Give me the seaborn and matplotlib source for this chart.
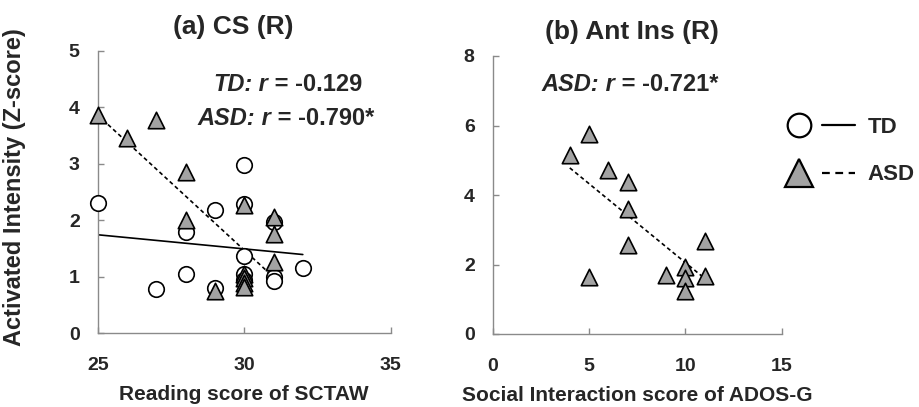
import matplotlib
matplotlib.use("Agg")
import matplotlib.pyplot as plt
import seaborn as sns
import pandas as pd
from matplotlib.lines import Line2D
from matplotlib.legend_handler import HandlerTuple

# ---------------- data ----------------
# Panel (a) CS (R): Reading score of SCTAW
td_x = [25, 27, 28, 28, 29, 29, 30, 30, 30, 30, 30, 31, 31, 31, 32]
td_y = [2.30, 0.78, 1.79, 1.05, 2.17, 0.80, 2.98, 2.28, 1.37, 1.05, 0.93, 1.96, 1.00, 0.92, 1.15]

asd_a_x = [25, 26, 27, 28, 28, 29, 30, 30, 30, 30, 30, 31, 31, 31]
asd_a_y = [3.86, 3.46, 3.78, 2.85, 2.00, 0.74, 2.26, 1.05, 0.97, 0.89, 0.81, 2.05, 1.75, 1.25]

# fitted lines (end points)
td_fit_x = [25, 32]
td_fit_y = [1.74, 1.39]
asd_a_fit_x = [25, 31]
asd_a_fit_y = [3.86, 0.99]

# Panel (b) Ant Ins (R): Social Interaction score of ADOS-G
asd_b_x = [4, 5, 5, 6, 7, 7, 7, 9, 10, 10, 10, 11, 11]
asd_b_y = [5.15, 5.75, 1.63, 4.72, 4.38, 3.59, 2.56, 1.70, 1.92, 1.60, 1.24, 2.69, 1.67]
asd_b_fit_x = [4, 11]
asd_b_fit_y = [4.78, 1.60]

titles = ["(a) CS (R)", "(b) Ant Ins (R)"]
xlabels = ["Reading score of SCTAW", "Social Interaction score of ADOS-G"]
ylabel = "Activated Intensity (Z-score)"
a_xticks = [25, 30, 35]
a_yticks = [0, 1, 2, 3, 4, 5]
b_xticks = [0, 5, 10, 15]
b_yticks = [0, 2, 4, 6, 8]
r_texts_a = [("TD:", " r", " = -0.129"), ("ASD:", " r", " = -0.790*")]
r_texts_b = [("ASD:", " r", " = -0.721*")]

# ---------------- style ----------------
sns.set_style("white")
plt.rcParams["font.family"] = ["Liberation Sans", "DejaVu Sans"]
plt.rcParams["font.weight"] = "bold"

W, H = 920, 407
fig = plt.figure(figsize=(W / 100, H / 100), dpi=100)

def px_axes(l, r, t, b):
    return fig.add_axes([l / W, 1 - b / H, (r - l) / W, (b - t) / H])

ax_a = px_axes(97.7, 390.7, 50.7, 333)
ax_b = px_axes(492.7, 781.7, 56, 334)

TRI_FILL = "#a3a3a3"
SPINE = "#8a8a8a"
DASH = (0, (2.4, 1.8))

df_td = pd.DataFrame({"x": td_x, "y": td_y})
df_asd_a = pd.DataFrame({"x": asd_a_x, "y": asd_a_y})
df_asd_b = pd.DataFrame({"x": asd_b_x, "y": asd_b_y})

# fitted lines
sns.lineplot(x=td_fit_x, y=td_fit_y, ax=ax_a, color="black", lw=1.2, zorder=2)
sns.lineplot(x=asd_a_fit_x, y=asd_a_fit_y, ax=ax_a, color="black", lw=1.2,
             linestyle=DASH, zorder=2)
sns.lineplot(x=asd_b_fit_x, y=asd_b_fit_y, ax=ax_b, color="black", lw=1.2,
             linestyle=DASH, zorder=2)

# points
sns.scatterplot(data=df_td, x="x", y="y", ax=ax_a, marker="o", s=125,
                facecolor="white", edgecolor="black", linewidth=1.2, zorder=3,
                clip_on=False)
sns.scatterplot(data=df_asd_a, x="x", y="y", ax=ax_a, marker="^", s=140,
                facecolor=TRI_FILL, edgecolor="black", linewidth=1.2, zorder=4,
                clip_on=False)
sns.scatterplot(data=df_asd_b, x="x", y="y", ax=ax_b, marker="^", s=140,
                facecolor=TRI_FILL, edgecolor="black", linewidth=1.2, zorder=4,
                clip_on=False)

for ax, xl, xt, yt, lim_x, lim_y, ttl, tx in [
    (ax_a, xlabels[0], a_xticks, a_yticks, (25, 35), (0, 5), titles[0], 0.462),
    (ax_b, xlabels[1], b_xticks, b_yticks, (0, 15), (0, 8), titles[1], 0.482),
]:
    ax.set_xlim(*lim_x)
    ax.set_ylim(*lim_y)
    ax.set_xticks(xt, labels=[str(v) for v in xt])
    ax.set_yticks(yt, labels=[str(v) for v in yt])
    ax.set_xlabel(xl, fontsize=15, fontweight="bold", labelpad=8)
    ax.set_ylabel("")
    ax.set_title(ttl, fontsize=19, fontweight="bold", pad=12, x=tx)
    for s in ["top", "right"]:
        ax.spines[s].set_visible(False)
    for s in ["left", "bottom"]:
        ax.spines[s].set_color(SPINE)
        ax.spines[s].set_linewidth(1.0)
    ax.tick_params(axis="both", direction="in", length=4, width=1.0,
                   color=SPINE, left=True, bottom=True, labelsize=14)
    ax.tick_params(axis="x", pad=17)
    ax.tick_params(axis="y", pad=13)
    for tk in ax.xaxis.get_major_ticks() + ax.yaxis.get_major_ticks():
        tk.label1.set_fontweight("bold")
    ax.patch.set_alpha(0)


def rich(ax, x, y, parts, size=17):
    t = ax.text(x, y, parts[0], fontsize=size, fontweight="bold",
                fontstyle="italic", va="center", ha="left")
    styles = ["italic", "normal"]
    for s, st in zip(parts[1:], styles):
        t = ax.annotate(s, xy=(1, 0), xycoords=t, va="bottom", ha="left",
                        fontsize=size, fontweight="bold", fontstyle=st)
    return t

rich(ax_a, 28.93, 4.40, r_texts_a[0])
rich(ax_a, 28.39, 3.80, r_texts_a[1])
rich(ax_b, 2.54, 7.19, r_texts_b[0])

fig.text(15 / W, 1 - 187 / H, ylabel, rotation=90, fontsize=17,
         fontweight="bold", ha="center", va="center")

# legend
h_td_m = Line2D([], [], marker="o", ms=17, mfc="white", mec="black", mew=1.6, ls="none")
h_td_l = Line2D([], [], color="black", lw=1.6, ls="-")
h_asd_m = Line2D([], [], marker="^", ms=20, mfc=TRI_FILL, mec="black", mew=1.6, ls="none")
h_asd_l = Line2D([], [], color="black", lw=1.6, ls=(0, (3.5, 2.5)))
fig.legend([(h_td_m, h_td_l), (h_asd_m, h_asd_l)], ["TD", "ASD"],
           handler_map={tuple: HandlerTuple(ndivide=None, pad=0.3)},
           loc="center left", bbox_to_anchor=(782 / W, 1 - 151 / H),
           frameon=False, handlelength=3.3, handletextpad=0.55,
           labelspacing=1.2, borderpad=0, borderaxespad=0,
           prop={"weight": "bold", "size": 16})

fig.savefig("out.png", dpi=100)
